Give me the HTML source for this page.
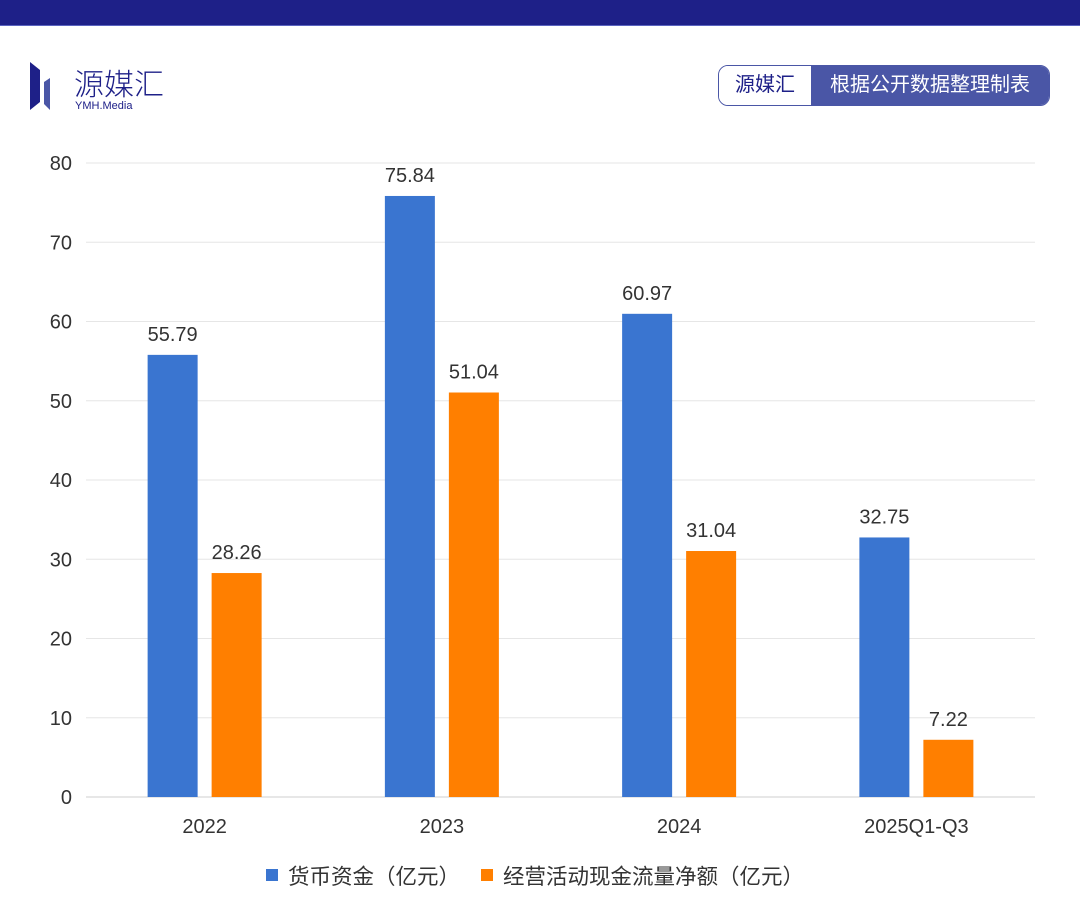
<!DOCTYPE html>
<html><head><meta charset="utf-8"><style>
body{margin:0;width:1080px;height:922px;background:#fff;font-family:"Liberation Sans","Noto Sans CJK SC",sans-serif;position:relative;overflow:hidden}
</style></head><body>
<div style="position:absolute;left:0;top:0;width:1080px;height:25px;background:#1e2088;border-bottom:1px solid #5a63c0"></div>
<div style="position:absolute;left:30px;top:62px">
<svg width="40" height="48"><polygon points="0,0 10,8 10,40 0,48" fill="#1e2088"/><polygon points="14,20 20,16 20,48 14,42" fill="#4a56a6"/></svg>
<div style="position:absolute;left:44px;top:-2px;font-size:30px;color:#1e2088;white-space:nowrap;font-weight:300">源媒汇</div>
<div style="position:absolute;left:45px;top:38px;font-size:11px;color:#1e2088;white-space:nowrap">YMH.Media</div>
</div>
<div style="position:absolute;left:718px;top:65px;width:332px;height:41px;border:1px solid #4a56a6;border-radius:10px;overflow:hidden;box-sizing:border-box;display:flex">
<div style="width:92px;background:#fff;color:#1e2088;font-size:20px;line-height:39px;text-align:center">源媒汇</div>
<div style="flex:1;background:#4a56a6;color:#fff;font-size:20px;line-height:39px;text-align:center">根据公开数据整理制表</div>
</div>
<svg id="chart" width="1080" height="922" style="position:absolute;left:0;top:0"></svg>
<script>
const categories=["2022","2023","2024","2025Q1-Q3"];
const cashValues=[55.79,75.84,60.97,32.75];
const flowValues=[28.26,51.04,31.04,7.22];
const yTicks=[0,10,20,30,40,50,60,70,80];
const svg=document.getElementById('chart');const NS='http://www.w3.org/2000/svg';
const x0=86,x1=1035,yb=797,yt=163,ymax=80;
const y=v=>yb-(v/ymax)*(yb-yt);
const bw=(x1-x0)/categories.length;
const cx=i=>x0+bw*(i+0.5);
function mk(t,a){const e=document.createElementNS(NS,t);for(const k in a)e.setAttribute(k,a[k]);svg.appendChild(e);return e;}
yTicks.forEach(t=>{
const l=mk('line',{x1:x0,x2:x1,y1:y(t),y2:y(t),stroke:t===0?'#cfcfcf':'#e6e6e6','stroke-width':1});


const tx=mk('text',{x:72,y:y(t)+7,'text-anchor':'end','font-size':20,fill:'#333'});tx.textContent=t;


});
categories.forEach((c,i)=>{
const tx=mk('text',{x:cx(i),y:833,'text-anchor':'middle','font-size':20,fill:'#333'});tx.textContent=c;


[[cashValues[i],'#3a75d0',-57,'cash'],[flowValues[i],'#ff7f00',7,'flow']].forEach(([v,col,off,n])=>{
const r=mk('rect',{x:cx(i)+off,y:y(v),width:50,height:yb-y(v),fill:col});


const lb=mk('text',{x:cx(i)+off+25,y:y(v)-14,'text-anchor':'middle','font-size':20,fill:'#333'});lb.textContent=v.toFixed(2);


});
});
[[266,'#3a75d0','货币资金（亿元）'],[481,'#ff7f00','经营活动现金流量净额（亿元）']].forEach(([lx,col,t],k)=>{
const r=mk('rect',{x:lx,y:869,width:12,height:12,fill:col});


const tx=mk('text',{x:lx+22,y:884,'font-size':21.5,fill:'#333'});tx.textContent=t;


});
</script>
</body></html>
